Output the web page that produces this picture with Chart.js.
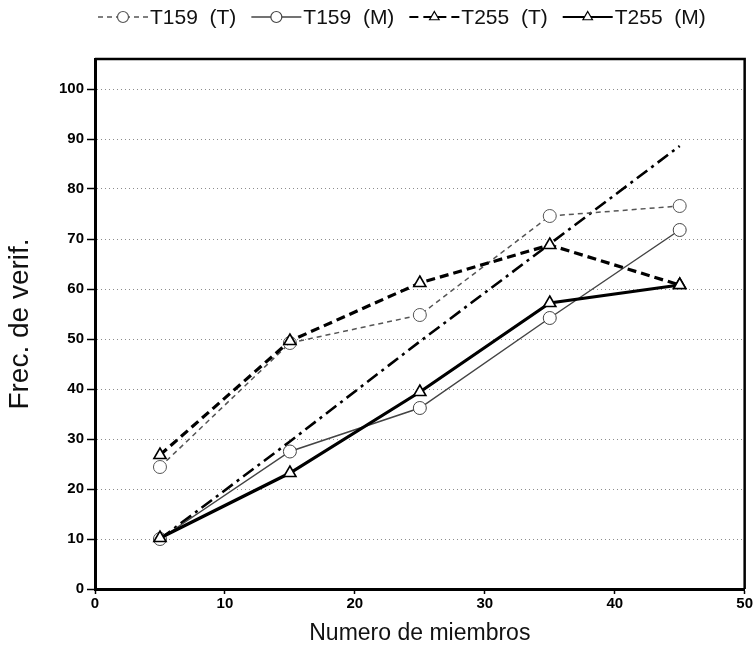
<!DOCTYPE html>
<html><head><meta charset="utf-8">
<script src="https://cdn.jsdelivr.net/npm/chart.js@4.4.1/dist/chart.umd.min.js"></script>
<style>html,body{margin:0;padding:0;background:#fff;}#wrap{width:754px;height:649px;position:relative;}</style>
</head><body><div id="wrap"><canvas id="c" width="754" height="649"></canvas></div>
<script>
// ---- data ----
const members = [5, 15, 25, 35, 45];
const t159T = [24.4, 49.2, 54.8, 74.6, 76.6];
const t159M = [10, 27.5, 36.2, 54.2, 71.8];
const t255T = [26.8, 49.6, 61.2, 68.8, 60.8];
const t255M = [10.2, 23.2, 39.4, 57.2, 60.8];
const refLine = [10, 29.5, 49.5, 69, 88.6];
const seriesLabels = ['T159  (T)', 'T159  (M)', 'T255  (T)', 'T255  (M)'];
const xTicks = [0, 10, 20, 30, 40, 50];
const yTicks = [0, 10, 20, 30, 40, 50, 60, 70, 80, 90, 100];
const xTitle = 'Numero de miembros';
const yTitle = 'Frec. de verif.';

const FONT = "'Liberation Sans', Arial, sans-serif";
const pts = arr => members.map((m, i) => ({x: m, y: arr[i]}));

const legendPlugin = {
  id: 'customLegend',
  afterDraw(chart) {
    const ctx = chart.ctx;
    ctx.save();
    ctx.font = "21px " + FONT;
    ctx.textBaseline = 'middle';
    ctx.textAlign = 'left';
    let x = 98;
    const y = 17;
    const sampleLen = 50;
    chart.data.datasets.forEach(ds => {
      if (ds.inLegend === false) return;
      ctx.save();
      ctx.strokeStyle = ds.borderColor;
      ctx.lineWidth = Math.min(ds.borderWidth, 2);
      ctx.setLineDash(ds.borderDash || []);
      ctx.beginPath();
      ctx.moveTo(x, y); ctx.lineTo(x + sampleLen, y);
      ctx.stroke();
      ctx.setLineDash([]);
      ctx.fillStyle = '#fff';
      ctx.strokeStyle = ds.pointBorderColor;
      ctx.lineWidth = 1.2;
      Chart.helpers.drawPoint(ctx, {pointStyle: ds.pointStyle, radius: 5.5, borderWidth: 1.2, rotation: 0}, x + sampleLen / 2, y);
      ctx.restore();
      x += sampleLen + 2;
      ctx.fillStyle = '#111';
      ctx.fillText(ds.label, x, y + 1);
      x += ctx.measureText(ds.label).width + 15;
    });
    ctx.restore();
  }
};

const boxPlugin = {
  id: 'box',
  afterDraw(chart) {
    const {ctx, chartArea: a} = chart;
    ctx.save();
    ctx.strokeStyle = '#000';
    ctx.lineWidth = 2.5;
    ctx.beginPath();
    ctx.moveTo(a.left, a.top); ctx.lineTo(a.right, a.top); ctx.lineTo(a.right, a.bottom);
    ctx.stroke();
    ctx.restore();
  }
};

new Chart(document.getElementById('c'), {
  type: 'line',
  data: {
    datasets: [
      {label: seriesLabels[0], order: 4, data: pts(t159T), borderColor: '#555', borderWidth: 1.5, borderDash: [5, 4],
       pointStyle: 'circle', pointRadius: 6.5, pointBorderWidth: 1, pointBackgroundColor: '#fff', pointBorderColor: '#555'},
      {label: seriesLabels[1], order: 3, data: pts(t159M), borderColor: '#444', borderWidth: 1.5, borderDash: [],
       pointStyle: 'circle', pointRadius: 6.5, pointBorderWidth: 1, pointBackgroundColor: '#fff', pointBorderColor: '#444'},
      {label: seriesLabels[2], order: 2, data: pts(t255T), borderColor: '#000', borderWidth: 3.2, borderDash: [9, 5],
       pointStyle: 'triangle', pointRadius: 7, pointBorderWidth: 1.6, pointBackgroundColor: '#fff', pointBorderColor: '#000'},
      {label: seriesLabels[3], order: 1, data: pts(t255M), borderColor: '#000', borderWidth: 3.2, borderDash: [],
       pointStyle: 'triangle', pointRadius: 7, pointBorderWidth: 1.6, pointBackgroundColor: '#fff', pointBorderColor: '#000'},
      {label: 'ref', inLegend: false, order: 5, data: pts(refLine), borderColor: '#000', borderWidth: 2.6, borderDash: [13, 5, 3, 5],
       pointRadius: 0, pointBorderColor: '#000'}
    ]
  },
  options: {
    responsive: false,
    devicePixelRatio: 1,
    animation: false,
    layout: {padding: {top: 59, right: 7, left: 0, bottom: 0}},
    plugins: {legend: {display: false}, tooltip: {enabled: false}},
    elements: {line: {tension: 0, fill: false}},
    scales: {
      x: {
        type: 'linear', min: 0, max: 50,
        afterBuildTicks: s => { s.ticks = xTicks.map(v => ({value: v})); },
        afterFit: s => { s.height = 60; },
        ticks: {font: {family: FONT, size: 15, weight: 'bold'}, color: '#000', padding: 1, maxRotation: 0, autoSkip: false},
        grid: {display: true, drawOnChartArea: false, drawTicks: true, tickLength: 5, tickColor: '#000', tickWidth: 1.5},
        border: {display: true, color: '#000', width: 3},
        title: {display: true, text: xTitle, font: {family: FONT, size: 23}, color: '#111', padding: {top: 0, bottom: 2}}
      },
      y: {
        type: 'linear', min: 0, max: 106,
        afterBuildTicks: s => { s.ticks = yTicks.map(v => ({value: v})); },
        afterFit: s => { s.width = 95; },
        ticks: {font: {family: FONT, size: 15, weight: 'bold'}, color: '#000', padding: 3, autoSkip: false},
        grid: {display: true, drawOnChartArea: true, drawTicks: true, tickLength: 8,
               color: ctx => ctx.tick && ctx.tick.value === 0 ? 'rgba(0,0,0,0)' : 'rgba(0,0,0,0.45)',
               lineWidth: 1, tickColor: '#000', tickWidth: 1.5, tickBorderDash: []},
        border: {display: true, color: '#000', width: 3, dash: [1, 3]},
        title: {display: true, text: yTitle, font: {family: FONT, size: 28}, color: '#111', padding: {top: 3, bottom: 0}}
      }
    }
  },
  plugins: [legendPlugin, boxPlugin]
});
</script>
</body></html>
